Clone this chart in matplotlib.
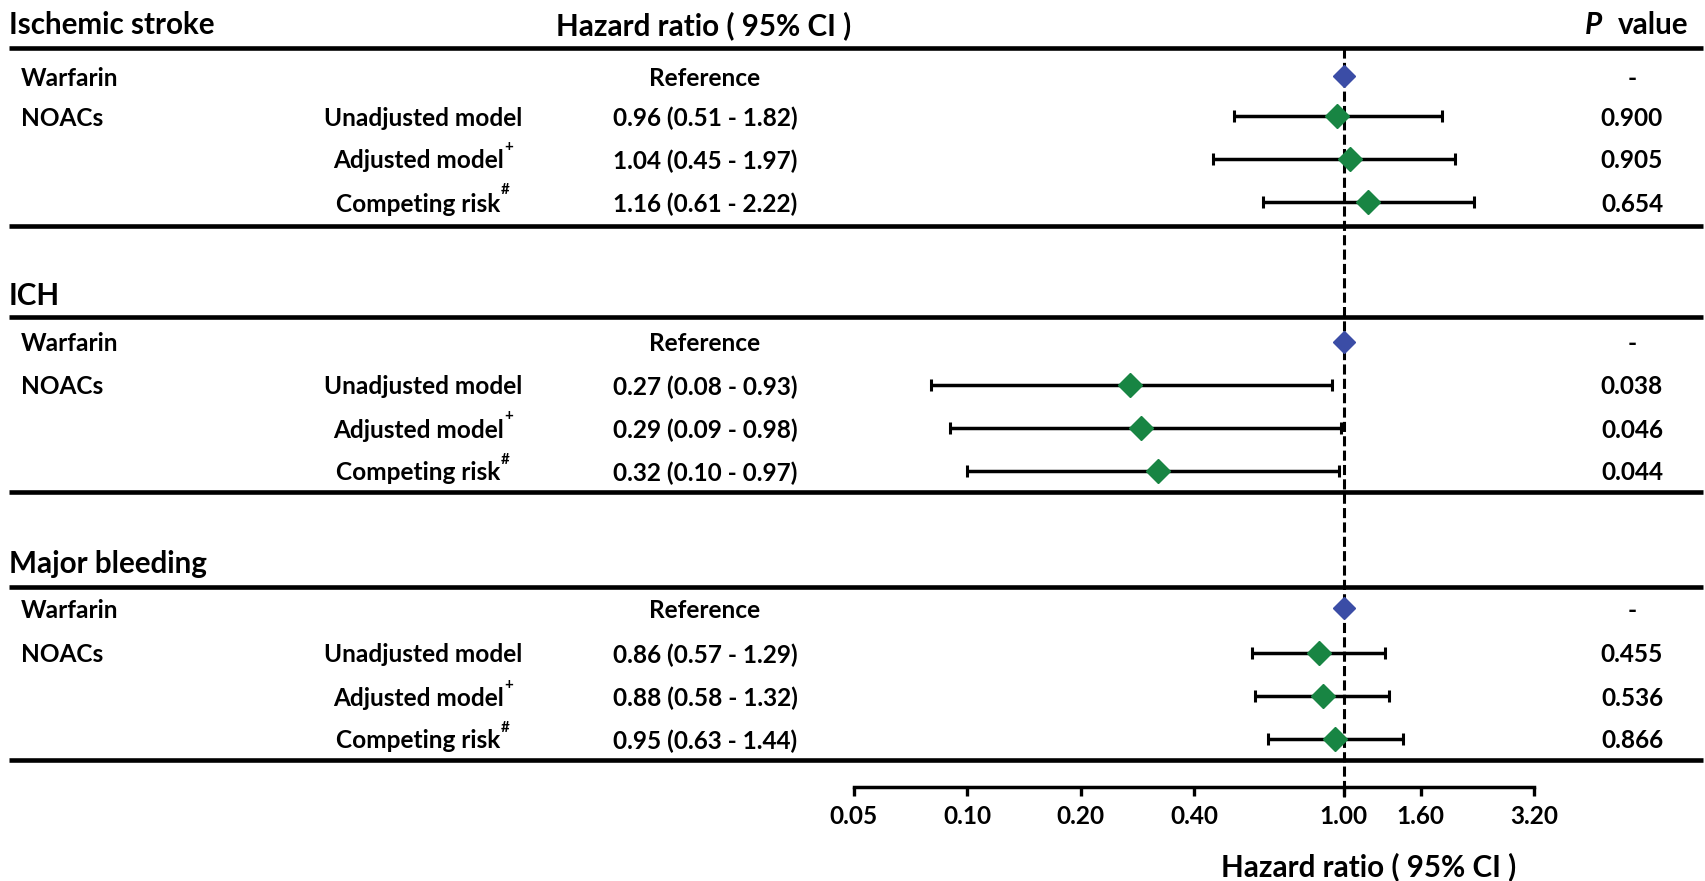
import matplotlib
matplotlib.use("Agg")
import matplotlib.pyplot as plt
import matplotlib.transforms as mtransforms
from matplotlib.lines import Line2D
from matplotlib.ticker import NullLocator

# ---------------- data ----------------
sections = ["Ischemic stroke", "ICH", "Major bleeding"]
groups = ["Warfarin", "NOACs"]
reference_label = "Reference"
models = ["Unadjusted model", "Adjusted model", "Competing risk"]
model_marks = ["", "+", "#"]

hr_stroke = [0.96, 1.04, 1.16]
lo_stroke = [0.51, 0.45, 0.61]
hi_stroke = [1.82, 1.97, 2.22]
p_stroke = ["0.900", "0.905", "0.654"]

hr_ich = [0.27, 0.29, 0.32]
lo_ich = [0.08, 0.09, 0.10]
hi_ich = [0.93, 0.98, 0.97]
p_ich = ["0.038", "0.046", "0.044"]

hr_bleed = [0.86, 0.88, 0.95]
lo_bleed = [0.57, 0.58, 0.63]
hi_bleed = [1.29, 1.32, 1.44]
p_bleed = ["0.455", "0.536", "0.866"]

reference_hr = 1.0
xticks = [0.05, 0.10, 0.20, 0.40, 1.00, 1.60, 3.20]
xtick_labels = ["0.05", "0.10", "0.20", "0.40", "1.00", "1.60", "3.20"]
col_header = "Hazard ratio ( 95% CI )"
p_header_italic = "P"
p_header_rest = "value"
x_label = "Hazard ratio ( 95% CI )"

all_hr = [hr_stroke, hr_ich, hr_bleed]
all_lo = [lo_stroke, lo_ich, lo_bleed]
all_hi = [hi_stroke, hi_ich, hi_bleed]
all_p = [p_stroke, p_ich, p_bleed]

# ---------------- layout ----------------
plt.rcParams['font.family'] = ['Lato', 'DejaVu Sans']
W, H = 1706, 881
fig = plt.figure(figsize=(W / 100, H / 100), dpi=100)
fig.patch.set_facecolor("white")
renderer = fig.canvas.get_renderer()

BLUE = "#3b4da6"
GREEN = "#188543"

def fx(x):
    return x / W

def fy(y):
    return 1 - y / H

def width_px(s, size, style="normal"):
    t = fig.text(0, 0, s, fontsize=size, fontweight="bold", fontstyle=style)
    w = t.get_window_extent(renderer).width
    t.remove()
    return w

def fit(s, target):
    return 20 * target / width_px(s, 20)

HEAD = fit("Ischemic stroke", 206)
BODY = fit("Unadjusted model", 198)
TICK = BODY
SUP = BODY * 0.62

def txt(x, y, s, size, ha="left", style="normal"):
    return fig.text(fx(x), fy(y), s, fontsize=size, fontweight="bold",
                    fontstyle=style, ha=ha, va="center_baseline")

def hline(y):
    fig.add_artist(Line2D([fx(9), fx(1703)], [fy(y), fy(y)], lw=3.3,
                          color="black", solid_capstyle="butt",
                          transform=fig.transFigure))

AX_LEFT, AX_RIGHT, AX_Y = 854, 1534, 787
ax = fig.add_axes([fx(AX_LEFT), fy(AX_Y), (AX_RIGHT - AX_LEFT) / W, AX_Y / H])
ax.set_xscale("log")
ax.set_xlim(xticks[0], xticks[-1])
ax.set_ylim(AX_Y, 0)
ax.patch.set_alpha(0)
for s in ["top", "left", "right"]:
    ax.spines[s].set_visible(False)
ax.spines["bottom"].set_linewidth(2.5)
ax.set_yticks([])
ax.set_xticks(xticks)
ax.xaxis.set_minor_locator(NullLocator())
ax.set_xticklabels([])
ax.tick_params(axis="x", direction="out", length=6.5, width=2.4)

blend = mtransforms.blended_transform_factory(ax.transData, fig.transFigure)
for v, lab in zip(xticks, xtick_labels):
    fig.text(v, fy(815), lab, transform=blend, fontsize=TICK,
             fontweight="bold", ha="center", va="center_baseline")
fig.text(fx(1369), fy(864), x_label, fontsize=HEAD, fontweight="bold",
         ha="center", va="center_baseline")

# header
HEAD_Y = 23
txt(704, HEAD_Y, col_header, HEAD, ha="center")
tv = txt(1688, HEAD_Y, p_header_rest, HEAD, ha="right")
vx0 = tv.get_window_extent(renderer).x0
fig.text((vx0 - 15) / W, fy(HEAD_Y), p_header_italic, fontsize=HEAD,
         fontweight="bold", fontstyle="italic", ha="right",
         va="center_baseline")

top_lines = [48, 317, 587]
label_y = [HEAD_Y, 294, 561]
ref_rows = [76, 342, 608]
first_rows = [116, 385, 653]
ROW_STEP = 43
bottom_lines = [226, 492, 760]
LABEL_X, GROUP_X, MODEL_C, HR_C, P_C = 9, 21, 423, 705, 1632

# reference dashed line
ax.plot([reference_hr, reference_hr], [top_lines[0], 797], color="black",
        lw=2.2, ls=(0, (3.3, 1.4)), clip_on=False, zorder=2)

for si in range(3):
    txt(LABEL_X, label_y[si], sections[si], HEAD)
    hline(top_lines[si])
    y_ref = ref_rows[si]
    rows = [first_rows[si] + k * ROW_STEP for k in range(3)]
    txt(GROUP_X, y_ref, groups[0], BODY)
    txt(HR_C, y_ref, reference_label, BODY, ha="center")
    txt(P_C, y_ref, "-", BODY, ha="center")
    ax.plot([reference_hr], [y_ref], marker="D", ms=11.5, color=BLUE,
            ls="none", zorder=4, clip_on=False)
    txt(GROUP_X, rows[0], groups[1], BODY)
    hr, lo, hi, pv = all_hr[si], all_lo[si], all_hi[si], all_p[si]
    for i in range(3):
        y = rows[i]
        w_main = width_px(models[i], BODY)
        w_sup = width_px(model_marks[i], SUP) if model_marks[i] else 0
        x0 = MODEL_C - (w_main + w_sup) / 2
        txt(x0, y, models[i], BODY)
        if model_marks[i]:
            txt(x0 + w_main, y - 13, model_marks[i], SUP)
        txt(HR_C, y, f"{hr[i]:.2f} ({lo[i]:.2f} - {hi[i]:.2f})", BODY,
            ha="center")
        txt(P_C, y, pv[i], BODY, ha="center")
        ax.errorbar([hr[i]], [y], xerr=[[hr[i] - lo[i]], [hi[i] - hr[i]]],
                    fmt="D", ms=12, color=GREEN, ecolor="black",
                    elinewidth=2.5, capsize=4, capthick=2.2, zorder=4,
                    clip_on=False)
    hline(bottom_lines[si])

fig.savefig("out.png", dpi=100, facecolor="white")
